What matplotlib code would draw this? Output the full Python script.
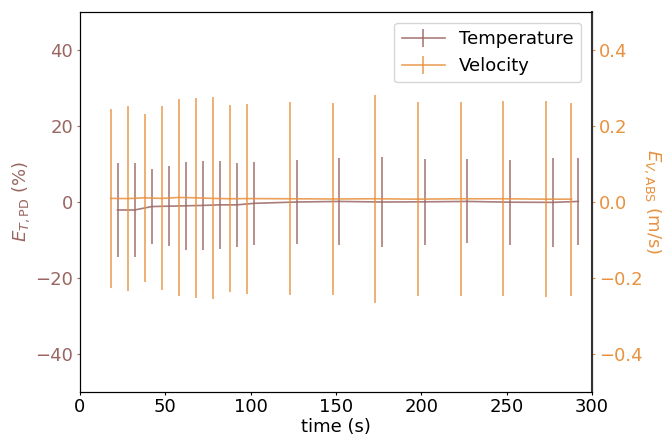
import matplotlib
matplotlib.use("Agg")
import matplotlib.pyplot as plt

# Temperature error (%), left axis
t_time = [22, 32, 42, 52, 62, 72, 82, 92, 102, 127, 152, 177, 202, 227, 252, 277, 292]
t_mean = [-2.1, -2.1, -1.2, -1.1, -1.0, -0.9, -0.75, -0.75, -0.35, 0.0, 0.15, 0.0, 0.05, 0.15, -0.05, -0.1, 0.15]
t_err = [12.3, 12.3, 9.8, 10.6, 11.6, 11.7, 11.5, 11.0, 10.9, 11.1, 11.35, 11.8, 11.25, 11.05, 11.15, 11.7, 11.35]

# Velocity error (m/s), right axis
v_time = [18, 28, 38, 48, 58, 68, 78, 88, 98, 123, 148, 173, 198, 223, 248, 273, 288]
v_mean = [0.0095, 0.009, 0.011, 0.0095, 0.012, 0.011, 0.0095, 0.0085, 0.009, 0.0085, 0.008, 0.0085, 0.0075, 0.0085, 0.0085, 0.0075, 0.0075]
v_err = [0.235, 0.244, 0.221, 0.242, 0.259, 0.264, 0.266, 0.246, 0.250, 0.254, 0.253, 0.274, 0.256, 0.256, 0.257, 0.258, 0.254]

x_ticks = [0, 50, 100, 150, 200, 250, 300]
left_ticks = [-40, -20, 0, 20, 40]
right_ticks = [-0.4, -0.2, 0.0, 0.2, 0.4]

c_t = "#9a6662"
c_v = "#e8913f"

plt.rcParams["font.family"] = ["DejaVu Sans"]
plt.rcParams["font.size"] = 13

fig = plt.figure(figsize=(6.62, 4.37), dpi=100)
ax = fig.add_axes([0.1208, 0.103, 0.7734, 0.8695])
ax2 = ax.twinx()

h1 = ax.errorbar(t_time, t_mean, yerr=t_err, color=c_t, lw=1.2, elinewidth=1.2,
                 alpha=0.85, label="Temperature")
h2 = ax2.errorbar(v_time, v_mean, yerr=v_err, color=c_v, lw=1.2, elinewidth=1.2,
                  alpha=0.85, label="Velocity")

ax.set_xlim(0, 300)
ax.set_ylim(-50, 50)
ax2.set_ylim(-0.5, 0.5)
ax.set_xticks(x_ticks)
ax.set_yticks(left_ticks)
ax2.set_yticks(right_ticks)
ax2.set_yticklabels([f"{v:.1f}".replace("-", "\u2212") for v in right_ticks])

ax.set_xlabel("time (s)", labelpad=1)
ax.set_ylabel(r"$E_{T,\mathrm{PD}}$ (%)", color=c_t, labelpad=2)
ax2.set_ylabel(r"$E_{V,\mathrm{ABS}}$ (m/s)", color=c_v, rotation=270, labelpad=15)
ax.tick_params(axis="y", colors=c_t, labelsize=13, length=2.5, pad=2.5)
ax.tick_params(axis="x", labelsize=13, length=2.5, pad=2)
ax2.tick_params(axis="y", colors=c_v, labelsize=13, length=2.5, pad=2.5)
ax2.spines["right"].set_color("#333333")
ax2.spines["right"].set_linewidth(1.5)

ax2.legend([h1, h2], ["Temperature", "Velocity"], loc="upper right", fontsize=13,
           handlelength=2.4, borderaxespad=0.6)

fig.savefig("out.png", dpi=100)
